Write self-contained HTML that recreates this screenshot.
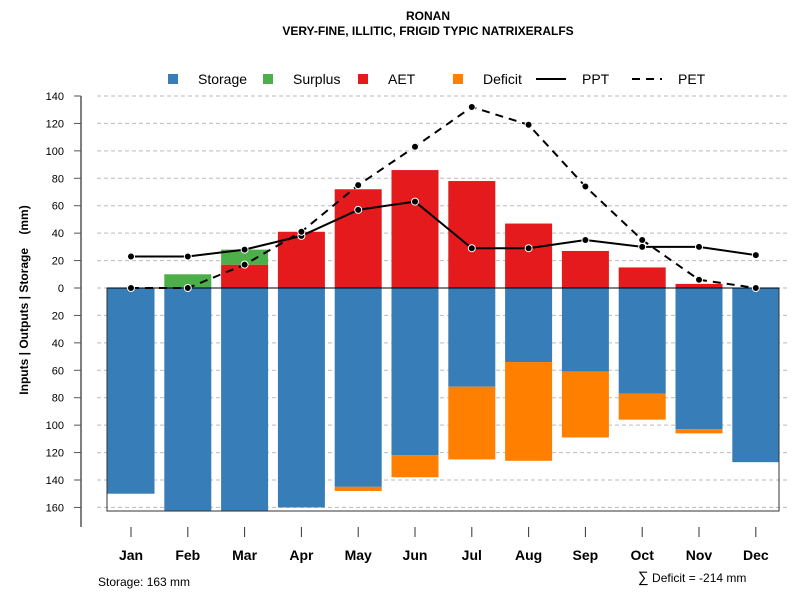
<!DOCTYPE html>
<html><head><meta charset="utf-8"><style>
body{margin:0;background:#fff}
svg text{font-family:"Liberation Sans",sans-serif}
</style></head><body>
<svg id="c" width="800" height="600" xmlns="http://www.w3.org/2000/svg">
<text x="428" y="20" text-anchor="middle" font-size="12" font-weight="bold">RONAN</text>
<text x="428" y="35" text-anchor="middle" font-size="12" font-weight="bold">VERY-FINE, ILLITIC, FRIGID TYPIC NATRIXERALFS</text>
<text transform="translate(28,300) rotate(-90)" text-anchor="middle" font-size="12" font-weight="bold">Inputs | Outputs | Storage&#160;&#160;&#160;&#160;(mm)</text>
<text x="98" y="586" font-size="12">Storage: 163 mm</text>
<text x="638" y="582" font-size="12"><tspan font-size="15">∑</tspan> Deficit = -214 mm</text>
<g id="grid"></g><g id="bars"></g><g id="axes"></g><g id="lines"></g><g id="legend"></g>
</svg>
<script>
const months=["Jan","Feb","Mar","Apr","May","Jun","Jul","Aug","Sep","Oct","Nov","Dec"];
const storage=[150,163,163,160,145,122,72,54,61,77,103,127];
const deficit=[0,0,0,0,3,16,53,72,48,19,3,0];
const aet=[0,0,17,41,72,86,78,47,27,15,3,0];
const surplus=[0,10,11,0,0,0,0,0,0,0,0,0];
const ppt=[23,23,28,38,57,63,29,29,35,30,30,24];
const pet=[0,0,17,41,75,103,132,119,74,35,6,0];
const yTicks=[140,120,100,80,60,40,20,0,-20,-40,-60,-80,-100,-120,-140,-160];
const NS="http://www.w3.org/2000/svg";
const y=v=>288-v*1.3714;
const x=i=>131+i*56.8;
const bw=47;
function mk(t,a,p){const e=document.createElementNS(NS,t);for(const k in a)e.setAttribute(k,a[k]);p.appendChild(e);return e;}
const grid=document.getElementById('grid'),bars=document.getElementById('bars'),axes=document.getElementById('axes'),lines=document.getElementById('lines'),leg=document.getElementById('legend');
yTicks.forEach(v=>{
 const g=mk('line',{x1:97,x2:790,y1:y(v),y2:y(v),stroke:'#bbb','stroke-dasharray':'4,3'},grid);
 
 
 const t=mk('line',{x1:74,x2:81,y1:y(v),y2:y(v),stroke:'#555'},axes);
 
 
 const l=mk('text',{x:64,y:y(v)+4,'text-anchor':'end','font-size':11},axes);l.textContent=Math.abs(v);
 
 
});
mk('line',{x1:81,x2:81,y1:96,y2:527,stroke:'#555','stroke-width':1.5},axes);
mk('rect',{x:107,y:288,width:672,height:223,fill:'none',stroke:'#333'},axes);
months.forEach((m,i)=>{
 const cx=x(i),x0=cx-bw/2;
 const s=mk('rect',{x:x0,y:288,width:bw,height:y(-storage[i])-288,fill:'#377eb8'},bars);
 
 
 if(deficit[i]>0){const d=mk('rect',{x:x0,y:y(-storage[i]),width:bw,height:y(-storage[i]-deficit[i])-y(-storage[i]),fill:'#ff7f00'},bars);
 
 }
 if(aet[i]>0){const a=mk('rect',{x:x0,y:y(aet[i]),width:bw,height:288-y(aet[i]),fill:'#e41a1c'},bars);
 
 }
 if(surplus[i]>0){const sp=mk('rect',{x:x0,y:y(aet[i]+surplus[i]),width:bw,height:y(aet[i])-y(aet[i]+surplus[i]),fill:'#4daf4a'},bars);
 
 }
 mk('line',{x1:cx,x2:cx,y1:527,y2:537,stroke:'#333'},axes);
 const t=mk('text',{x:cx,y:560,'text-anchor':'middle','font-size':14,'font-weight':'bold'},axes);t.textContent=m;
 
 
});
mk('line',{x1:107,x2:779,y1:288,y2:288,stroke:'#000'},axes);
function series(arr,dash,name){
 const p=mk('polyline',{points:arr.map((v,i)=>x(i)+','+y(v)).join(' '),fill:'none',stroke:'#000','stroke-width':2,'stroke-dasharray':dash},lines);
 
 
 arr.forEach((v,i)=>{const c=mk('circle',{cx:x(i),cy:y(v),r:3.5,fill:'#000',stroke:'#fff','stroke-width':1},lines);
 
 });
}
series(ppt,'none','ppt');
series(pet,'8,6','pet');
const items=[['Storage','#377eb8',173,'rect'],['Surplus','#4daf4a',268,'rect'],['AET','#e41a1c',363,'rect'],['Deficit','#ff7f00',458,'rect'],['PPT',null,540,'line'],['PET',null,636,'dash']];
items.forEach(it=>{
 const g=mk('g',{},leg);
 
 
 if(it[3]=='rect')mk('rect',{x:it[2]-5,y:74,width:10,height:10,fill:it[1]},g);
 else mk('line',{x1:it[2]-4,x2:it[2]+26,y1:79,y2:79,stroke:'#000','stroke-width':2,'stroke-dasharray':it[3]=='dash'?'8,6':'none'},g);
 const t=mk('text',{x:it[3]=='rect'?it[2]+25:it[2]+42,y:84,'font-size':14},g);t.textContent=it[0];
});
</script>
</body></html>
